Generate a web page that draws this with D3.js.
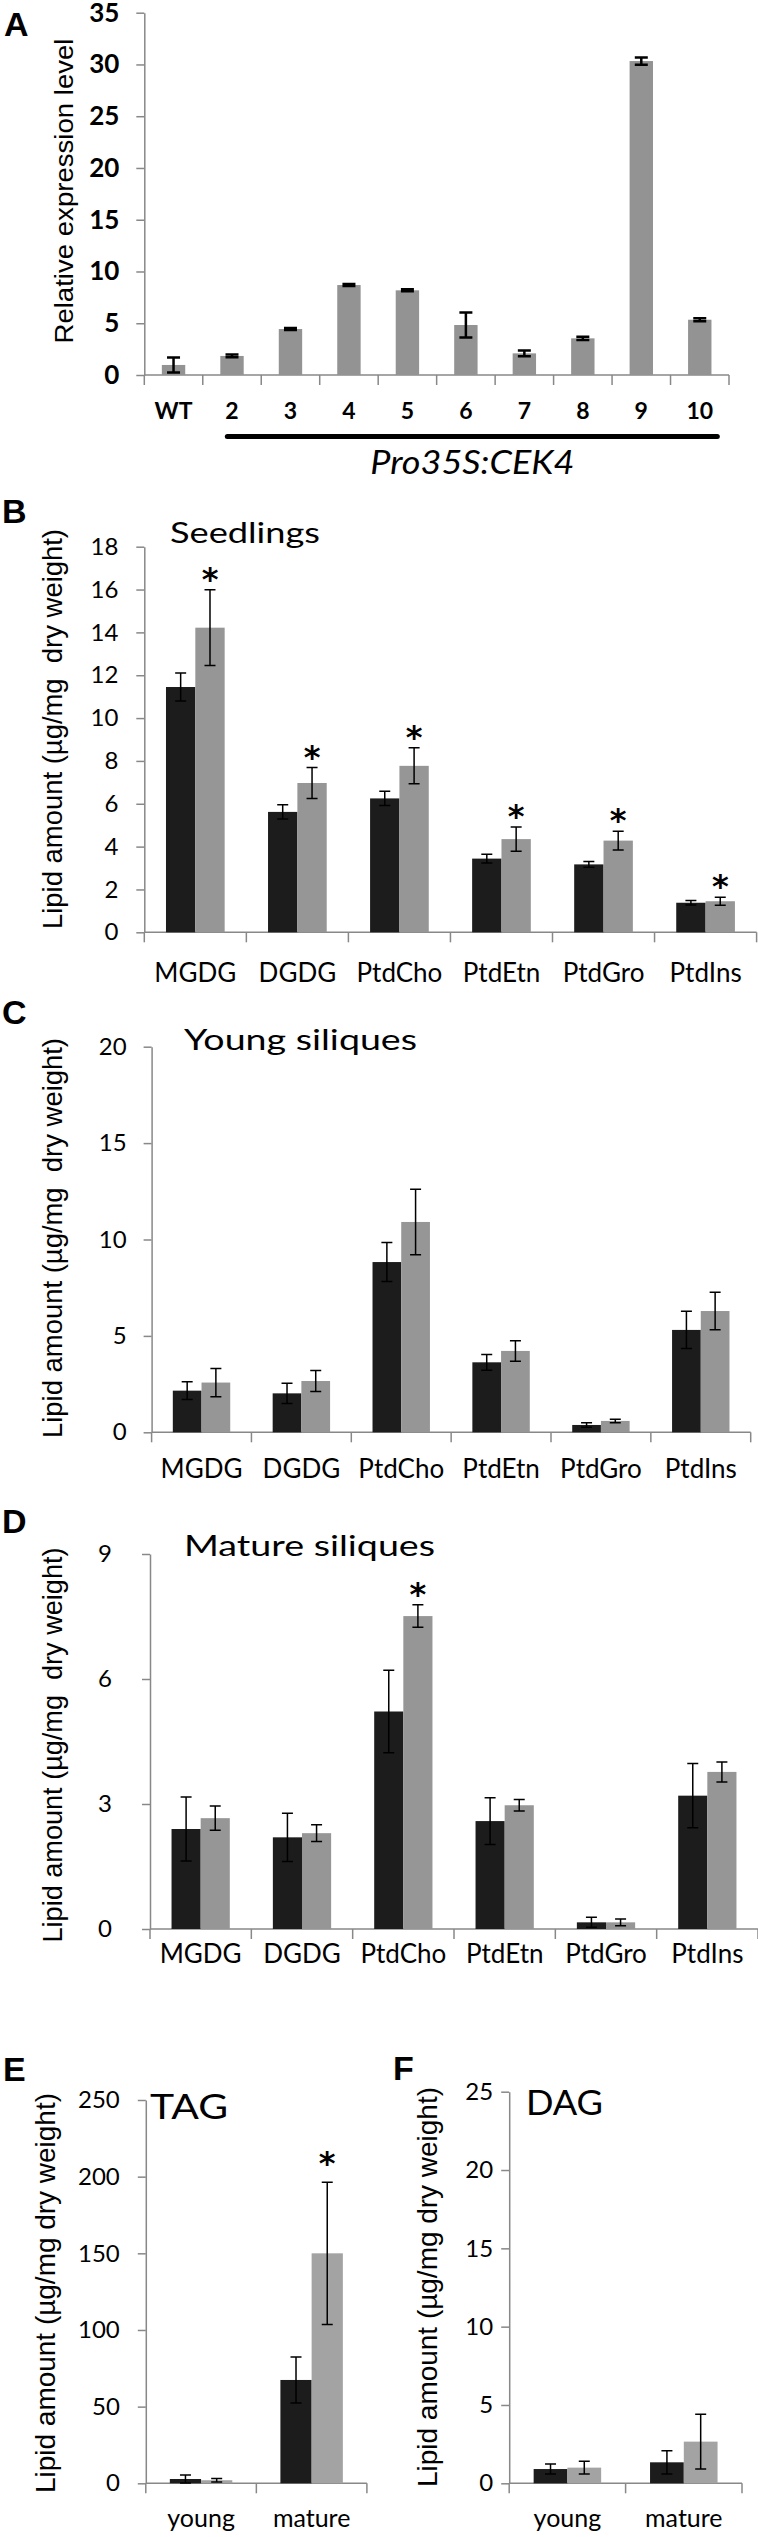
<!DOCTYPE html>
<html><head><meta charset="utf-8">
<script src="https://cdn.jsdelivr.net/npm/d3@7"></script>
<style>body{margin:0;background:#fff} svg{display:block}</style>
</head><body>
<svg id="chart" width="758" height="2537"></svg>
<script>
// ---------- DATA ----------
// Panel A
const aCategories = ["WT","2","3","4","5","6","7","8","9","10"];
const aValues = [0.97,1.84,4.44,8.69,8.18,4.83,2.09,3.54,30.33,5.34];
const aErrors = [0.72,0.13,0.1,0.1,0.1,1.2,0.28,0.15,0.35,0.15];
const aTicks = [0,5,10,15,20,25,30,35];
const aGroupLabel = "Pro35S:CEK4";

// Panels B-D
const lipidClasses = ["MGDG","DGDG","PtdCho","PtdEtn","PtdGro","PtdIns"];

const seedlingsWT = [11.45,5.62,6.25,3.44,3.17,1.38];
const seedlingsWTErr = [0.65,0.33,0.33,0.2,0.13,0.1];
const seedlingsOE = [14.22,6.97,7.77,4.35,4.28,1.45];
const seedlingsOEErr = [1.77,0.72,0.84,0.57,0.44,0.19];
const seedlingsOEStar = [true,true,true,true,true,true];
const seedlingsTicks = [0,2,4,6,8,10,12,14,16,18];

const youngWT = [2.16,2.02,8.83,3.63,0.38,5.31];
const youngWTErr = [0.46,0.52,1.01,0.41,0.12,0.97];
const youngOE = [2.58,2.66,10.91,4.22,0.59,6.29];
const youngOEErr = [0.73,0.54,1.7,0.53,0.09,0.97];
const youngTicks = [0,5,10,15,20];

const matureWT = [2.4,2.2,5.22,2.59,0.16,3.2];
const matureWTErr = [0.77,0.58,0.99,0.56,0.12,0.77];
const matureOE = [2.66,2.3,7.51,2.97,0.16,3.77];
const matureOEErr = [0.29,0.2,0.27,0.14,0.08,0.24];
const matureOEStar = [false,false,true,false,false,false];
const matureTicks = [0,3,6,9];

// Panels E-F
const stages = ["young","mature"];
const tagWT = [2.8,67.4];
const tagWTErr = [2.6,15];
const tagOE = [2.0,150];
const tagOEErr = [1.1,46.4];
const tagOEStar = [false,true];
const tagTicks = [0,50,100,150,200,250];

const dagWT = [0.91,1.34];
const dagWTErr = [0.32,0.74];
const dagOE = [1.0,2.66];
const dagOEErr = [0.41,1.75];
const dagTicks = [0,5,10,15,20,25];

const yTitleA = "Relative expression level";
const yTitleLipid = "Lipid amount (\u00b5g/mg\u00a0 dry weight)";
const yTitleLipidEF = "Lipid amount (\u00b5g/mg dry weight)";

// ---------- DRAWING ----------
const svg = d3.select("#chart");
const AXIS = "#888888";
const BLACK = "#1c1c1c";
const GRAY = "#969696";
const CAL = "Lato, 'Open Sans', sans-serif";
const ARIAL = "'Liberation Sans', Arial, sans-serif";

function label(x, y, txt, size, opts = {}) {
  const t = svg.append("text").attr("x", x).attr("y", y).text(txt)
    .attr("font-family", opts.family || CAL)
    .attr("font-size", size)
    .attr("font-weight", opts.weight || "normal")
    .attr("font-style", opts.style || "normal")
    .attr("text-anchor", opts.anchor || "start")
    .attr("fill", "#000");
  if (opts.len) t.attr("textLength", opts.len).attr("lengthAdjust", "spacingAndGlyphs");
  return t;
}
function yTitle(x, cy, txt, size, len) {
  svg.append("text").attr("transform", `translate(${x},${cy}) rotate(-90)`)
    .attr("text-anchor", "middle").attr("font-family", ARIAL).attr("font-size", size)
    .attr("textLength", len).attr("lengthAdjust", "spacingAndGlyphs")
    .attr("fill", "#000").text(txt);
}

function panel(o) {
  const g = svg.append("g");
  const x = d3.scaleBand().domain(o.categories).range([o.x0, o.x1]).paddingInner(0).paddingOuter(0);
  const y = d3.scaleLinear().domain([0, o.max]).range([o.yBot, o.yTop]);
  const step = x.step();
  const gw = step * o.groupFrac;
  const xs = d3.scaleBand().domain(d3.range(o.series.length)).range([0, gw]).padding(0);
  const groupStart = c => x(c) + (step - gw) / 2;

  // y axis
  const ya = g.append("g").attr("transform", `translate(${o.x0},0)`)
    .call(d3.axisLeft(y).tickValues(o.ticks).tickSize(8).tickPadding(o.tickPad).tickSizeOuter(0));
  ya.select(".domain").attr("stroke", AXIS).attr("stroke-width", 1.5);
  ya.selectAll(".tick line").attr("stroke", AXIS).attr("stroke-width", 1.5);
  ya.selectAll(".tick text").attr("font-family", CAL).attr("font-size", o.tickSize)
    .attr("font-weight", o.tickWeight || "normal").attr("fill", "#000");

  // x axis line + boundary ticks
  g.append("line").attr("x1", o.x0).attr("x2", o.x1).attr("y1", o.yBot).attr("y2", o.yBot)
    .attr("stroke", AXIS).attr("stroke-width", 1.5);
  const bounds = o.categories.map(c => x(c)).concat([o.x1]);
  g.selectAll(".bt").data(bounds).join("line")
    .attr("x1", d => d).attr("x2", d => d).attr("y1", o.yBot).attr("y2", o.yBot + 10)
    .attr("stroke", AXIS).attr("stroke-width", 1.5);
  // category labels
  const xa = g.append("g").attr("transform", `translate(0,${o.labelY})`)
    .call(d3.axisBottom(x).tickSize(0).tickPadding(0));
  xa.select(".domain").remove();
  xa.selectAll(".tick text").attr("dy", 0).attr("y", 0).attr("font-family", CAL)
    .attr("font-size", o.labelSize).attr("font-weight", o.labelWeight || "normal").attr("fill", "#000");

  // bars
  o.series.forEach((s, si) => {
    const data = o.categories.map((c, i) => ({c, v: s.values[i], e: s.errors[i], star: s.stars ? s.stars[i] : false}));
    const bx = d => groupStart(d.c) + xs(si);
    const bw = xs.bandwidth();
    g.selectAll(null).data(data).join("rect")
      .attr("x", bx).attr("width", bw)
      .attr("y", d => y(d.v)).attr("height", d => o.yBot - y(d.v))
      .attr("fill", s.fill);
    const cx = d => bx(d) + bw / 2;
    const cap = o.capW / 2;
    g.selectAll(null).data(data).join("path")
      .attr("d", d => `M${cx(d)},${y(d.v + d.e)}V${y(Math.max(0, d.v - d.e))}` +
        `M${cx(d) - cap},${y(d.v + d.e)}H${cx(d) + cap}` +
        `M${cx(d) - cap},${y(Math.max(0, d.v - d.e))}H${cx(d) + cap}`)
      .attr("stroke", "#000").attr("stroke-width", o.errW).attr("fill", "none");
    g.selectAll(null).data(data.filter(d => d.star)).join("text")
      .attr("x", cx).attr("y", d => y(d.v + d.e) + (o.starDy || 0))
      .attr("text-anchor", "middle").attr("font-family", "'DejaVu Sans', sans-serif")
      .attr("font-weight", "bold").attr("font-size", 32).attr("fill", "#000").text("*");
  });
  return {x, y};
}

// ----- Panel A -----
label(4, 36, "A", 34, {family: ARIAL, weight: "bold"});
const pA = panel({
  categories: aCategories, x0: 144.3, x1: 729, yTop: 12.7, yBot: 375, max: 35,
  ticks: aTicks, tickPad: 17, tickSize: 26, tickWeight: "bold",
  labelY: 419, labelSize: 23, labelWeight: "bold",
  groupFrac: 0.4, capW: 13, errW: 2.5,
  series: [{values: aValues, errors: aErrors, fill: "#939393"}]
});
yTitle(73, 191, yTitleA, 25, 305);
{
  const st = pA.x.step();
  const lx0 = pA.x("2") + st * 0.42, lx1 = pA.x("10") + st * 0.8;
  svg.append("line").attr("x1", lx0).attr("x2", lx1).attr("y1", 436.5).attr("y2", 436.5)
    .attr("stroke", "#000").attr("stroke-width", 5).attr("stroke-linecap", "round");
  label((lx0 + lx1) / 2, 474, aGroupLabel, 32, {style: "italic", anchor: "middle", len: 204});
}

// ----- Panel B -----
label(2, 523, "B", 34, {family: ARIAL, weight: "bold"});
panel({
  categories: lipidClasses, x0: 144.3, x1: 756.6, yTop: 546.7, yBot: 932.3, max: 18,
  ticks: seedlingsTicks, tickPad: 18, tickSize: 24,
  labelY: 982, labelSize: 26, groupFrac: 0.575, capW: 11, errW: 1.5,
  series: [{values: seedlingsWT, errors: seedlingsWTErr, fill: BLACK},
           {values: seedlingsOE, errors: seedlingsOEErr, fill: GRAY, stars: seedlingsOEStar}]
});
label(170, 543, "Seedlings", 29, {len: 150});
yTitle(62, 729, yTitleLipid, 28, 400);

// ----- Panel C -----
label(2, 1024, "C", 34, {family: ARIAL, weight: "bold"});
panel({
  categories: lipidClasses, x0: 151.6, x1: 750.7, yTop: 1046.7, yBot: 1432.3, max: 20,
  ticks: youngTicks, tickPad: 17, tickSize: 24,
  labelY: 1478, labelSize: 26, groupFrac: 0.575, capW: 11, errW: 1.5,
  series: [{values: youngWT, errors: youngWTErr, fill: BLACK},
           {values: youngOE, errors: youngOEErr, fill: GRAY}]
});
label(184, 1050, "Young siliques", 29, {len: 233});
yTitle(62, 1238, yTitleLipid, 28, 400);

// ----- Panel D -----
label(2, 1533, "D", 34, {family: ARIAL, weight: "bold"});
panel({
  categories: lipidClasses, x0: 150, x1: 758, yTop: 1554, yBot: 1929, max: 9,
  ticks: matureTicks, tickPad: 30, tickSize: 24,
  labelY: 1963, labelSize: 26, groupFrac: 0.575, capW: 11, errW: 1.5,
  series: [{values: matureWT, errors: matureWTErr, fill: BLACK},
           {values: matureOE, errors: matureOEErr, fill: GRAY, stars: matureOEStar}]
});
label(184, 1556, "Mature siliques", 29, {len: 251});
yTitle(62, 1745, yTitleLipid, 28, 395);

// ----- Panel E -----
label(3, 2081, "E", 34, {family: ARIAL, weight: "bold"});
panel({
  categories: stages, x0: 145.8, x1: 366.9, yTop: 2100, yBot: 2483.3, max: 250,
  ticks: tagTicks, tickPad: 18, tickSize: 24,
  labelY: 2527, labelSize: 25, groupFrac: 0.565, capW: 11, errW: 1.5, starDy: -8,
  series: [{values: tagWT, errors: tagWTErr, fill: BLACK},
           {values: tagOE, errors: tagOEErr, fill: "#a3a3a3", stars: tagOEStar}]
});
label(150, 2119, "TAG", 34, {len: 78});
yTitle(55, 2293, yTitleLipidEF, 28, 400);

// ----- Panel F -----
label(393, 2080, "F", 34, {family: ARIAL, weight: "bold"});
panel({
  categories: stages, x0: 509.2, x1: 742, yTop: 2091.7, yBot: 2483.3, max: 25,
  ticks: dagTicks, tickPad: 8, tickSize: 24,
  labelY: 2527, labelSize: 25, groupFrac: 0.58, capW: 11, errW: 1.5,
  series: [{values: dagWT, errors: dagWTErr, fill: BLACK},
           {values: dagOE, errors: dagOEErr, fill: "#a3a3a3"}]
});
label(526, 2115, "DAG", 34, {len: 77});
yTitle(437, 2287, yTitleLipidEF, 28, 400);
</script>
</body></html>
